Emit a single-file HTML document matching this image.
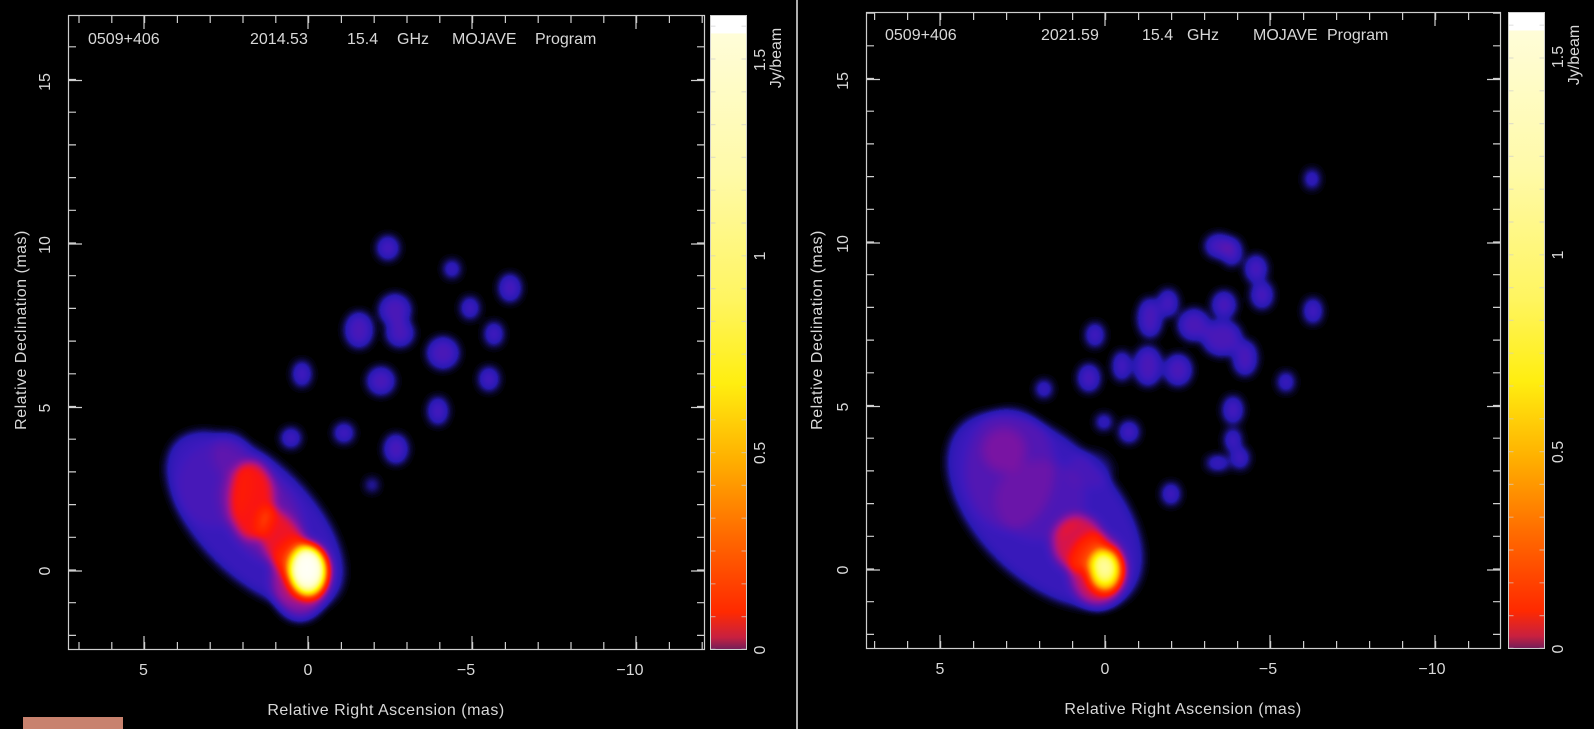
<!DOCTYPE html>
<html><head><meta charset="utf-8">
<style>
html,body{margin:0;padding:0;background:#000;width:1594px;height:729px;overflow:hidden}
svg{display:block}
text{font-family:"Liberation Sans",sans-serif;fill:#d8d8d8;}
</style></head><body>
<svg width="1594" height="729" viewBox="0 0 1594 729" xmlns="http://www.w3.org/2000/svg">
<defs>
<filter id="cmL" filterUnits="userSpaceOnUse" x="68" y="15" width="637" height="635" color-interpolation-filters="sRGB">
 <feGaussianBlur stdDeviation="5"/>
 <feColorMatrix type="matrix" values="0 0 0 1 0  0 0 0 1 0  0 0 0 1 0  0 0 0 0 1"/>
 <feComponentTransfer>
  <feFuncR type="table" tableValues="0 .16 .24 .33 .45 .57 .72 .86 .98 1 1 1 1 1 1 1 1 1 1 1 1 1 1 1 1 1"/>
  <feFuncG type="table" tableValues="0 .1 .1 .09 .08 .08 .08 .08 .08 .12 .16 .24 .31 .43 .55 .67 .78 .88 .96 .98 .99 .99 1 1 1 1"/>
  <feFuncB type="table" tableValues="0 .7 .74 .7 .65 .6 .45 .27 .08 0 0 0 0 0 0 0 0 0 .04 .24 .43 .59 .75 .86 .94 1"/>
 </feComponentTransfer>
</filter>
<filter id="cmR" filterUnits="userSpaceOnUse" x="866" y="12" width="635" height="637" color-interpolation-filters="sRGB">
 <feGaussianBlur stdDeviation="5"/>
 <feColorMatrix type="matrix" values="0 0 0 1 0  0 0 0 1 0  0 0 0 1 0  0 0 0 0 1"/>
 <feComponentTransfer>
  <feFuncR type="table" tableValues="0 .16 .24 .33 .45 .57 .72 .86 .98 1 1 1 1 1 1 1 1 1 1 1 1 1 1 1 1 1"/>
  <feFuncG type="table" tableValues="0 .1 .1 .09 .08 .08 .08 .08 .08 .12 .16 .24 .31 .43 .55 .67 .78 .88 .96 .98 .99 .99 1 1 1 1"/>
  <feFuncB type="table" tableValues="0 .7 .74 .7 .65 .6 .45 .27 .08 0 0 0 0 0 0 0 0 0 .04 .24 .43 .59 .75 .86 .94 1"/>
 </feComponentTransfer>
</filter>
<linearGradient id="cb" x1="0" y1="1" x2="0" y2="0">
 <stop offset="0" stop-color="#6e1e5a"/>
 <stop offset="0.02" stop-color="#c82040"/>
 <stop offset="0.06" stop-color="#ff2a00"/>
 <stop offset="0.18" stop-color="#ff6a00"/>
 <stop offset="0.3" stop-color="#ffb000"/>
 <stop offset="0.42" stop-color="#ffee10"/>
 <stop offset="0.55" stop-color="#fff560"/>
 <stop offset="0.75" stop-color="#fffaa8"/>
 <stop offset="0.97" stop-color="#fffdd8"/>
 <stop offset="0.972" stop-color="#ffffff"/>
 <stop offset="1" stop-color="#ffffff"/>
</linearGradient>
</defs>

<!-- LEFT IMAGE -->
<g filter="url(#cmL)" fill="#fff">
 <ellipse cx="255" cy="520" rx="110" ry="56" transform="rotate(45 255 520)" fill-opacity="0.07"/>
 <ellipse cx="215" cy="485" rx="38" ry="42" fill-opacity="0.03"/>
 <ellipse cx="230" cy="455" rx="18" ry="22" fill-opacity="0.04"/>
 <ellipse cx="262" cy="515" rx="55" ry="35" transform="rotate(55 262 515)" fill-opacity="0.07"/>
 <ellipse cx="252" cy="500" rx="22" ry="40" fill-opacity="0.22"/>
 <ellipse cx="285" cy="545" rx="20" ry="42" transform="rotate(-30 285 545)" fill-opacity="0.2"/>
 <ellipse cx="300" cy="578" rx="28" ry="40" fill-opacity="0.16"/>
 <ellipse cx="308" cy="571" rx="20" ry="26" fill-opacity="0.8"/>
 <ellipse cx="308" cy="569" rx="13" ry="17" fill-opacity="0.8"/>
 <g fill-opacity="0.1">
  <ellipse cx="388" cy="248" rx="9" ry="10"/>
  <ellipse cx="452" cy="269" rx="6" ry="7"/>
  <ellipse cx="359" cy="330" rx="12" ry="16"/>
  <ellipse cx="395" cy="310" rx="14" ry="14"/>
  <ellipse cx="400" cy="333" rx="12" ry="12"/>
  <ellipse cx="443" cy="353" rx="14" ry="14"/>
  <ellipse cx="381" cy="381" rx="12" ry="12"/>
  <ellipse cx="470" cy="308" rx="7" ry="9"/>
  <ellipse cx="494" cy="334" rx="7" ry="10"/>
  <ellipse cx="510" cy="288" rx="9" ry="12"/>
  <ellipse cx="489" cy="379" rx="8" ry="10"/>
  <ellipse cx="438" cy="411" rx="8" ry="12"/>
  <ellipse cx="396" cy="449" rx="10" ry="13"/>
  <ellipse cx="344" cy="433" rx="8" ry="8"/>
  <ellipse cx="291" cy="438" rx="8" ry="8"/>
  <ellipse cx="302" cy="374" rx="7" ry="11"/>
  <ellipse cx="372" cy="485" rx="4" ry="5"/>
 </g>
</g>

<!-- RIGHT IMAGE -->
<g filter="url(#cmR)" fill="#fff">
 <ellipse cx="1045" cy="510" rx="118" ry="68" transform="rotate(45 1045 510)" fill-opacity="0.07"/>
 <ellipse cx="1010" cy="470" rx="45" ry="60" fill-opacity="0.05"/>
 <ellipse cx="1090" cy="470" rx="22" ry="18" fill-opacity="0.03"/>
 <ellipse cx="1004" cy="450" rx="22" ry="22" fill-opacity="0.06"/>
 <ellipse cx="1040" cy="500" rx="45" ry="40" fill-opacity="0.04"/>
 <ellipse cx="1078" cy="543" rx="26" ry="28" fill-opacity="0.22"/>
 <ellipse cx="1098" cy="570" rx="28" ry="36" fill-opacity="0.2"/>
 <ellipse cx="1105" cy="570" rx="17" ry="22" fill-opacity="0.6"/>
 <ellipse cx="1105" cy="568" rx="10" ry="13" fill-opacity="0.5"/>
 <g fill-opacity="0.1">
  <ellipse cx="1312" cy="179" rx="5" ry="8"/>
  <ellipse cx="1219" cy="246" rx="12" ry="10"/>
  <ellipse cx="1232" cy="252" rx="8" ry="12"/>
  <ellipse cx="1256" cy="269" rx="9" ry="12"/>
  <ellipse cx="1262" cy="295" rx="9" ry="12"/>
  <ellipse cx="1224" cy="305" rx="10" ry="12"/>
  <ellipse cx="1168" cy="303" rx="8" ry="12"/>
  <ellipse cx="1150" cy="318" rx="10" ry="18"/>
  <ellipse cx="1194" cy="325" rx="14" ry="14"/>
  <ellipse cx="1222" cy="338" rx="18" ry="16"/>
  <ellipse cx="1245" cy="358" rx="10" ry="16"/>
  <ellipse cx="1148" cy="366" rx="12" ry="18"/>
  <ellipse cx="1178" cy="370" rx="12" ry="14"/>
  <ellipse cx="1122" cy="366" rx="7" ry="13"/>
  <ellipse cx="1095" cy="335" rx="7" ry="10"/>
  <ellipse cx="1089" cy="378" rx="9" ry="12"/>
  <ellipse cx="1044" cy="389" rx="6" ry="7"/>
  <ellipse cx="1129" cy="432" rx="8" ry="9"/>
  <ellipse cx="1104" cy="422" rx="6" ry="6"/>
  <ellipse cx="1233" cy="410" rx="8" ry="12"/>
  <ellipse cx="1233" cy="440" rx="6" ry="10"/>
  <ellipse cx="1240" cy="458" rx="7" ry="9"/>
  <ellipse cx="1286" cy="382" rx="6" ry="8"/>
  <ellipse cx="1313" cy="311" rx="7" ry="11"/>
  <ellipse cx="1171" cy="494" rx="7" ry="9"/>
  <ellipse cx="1218" cy="463" rx="10" ry="5"/>
 </g>
</g>

<!-- LEFT AXES -->
<g stroke="#cfcfcf" fill="none">
 <rect x="68.5" y="15.5" width="636" height="634" stroke-width="1.2"/>
 <line x1="78.4" y1="646" x2="705" y2="646" stroke-width="8" stroke-dasharray="1.2 31.6"/>
 <line x1="78.4" y1="19" x2="705" y2="19" stroke-width="8" stroke-dasharray="1.2 31.6"/>
 <line x1="143.4" y1="643" x2="705" y2="643" stroke-width="14" stroke-dasharray="1.2 162.8"/>
 <line x1="143.4" y1="22" x2="705" y2="22" stroke-width="14" stroke-dasharray="1.2 162.8"/>
 <line x1="72" y1="636" x2="72" y2="15" stroke-width="8" stroke-dasharray="1.2 31.5"/>
 <line x1="701" y1="636" x2="701" y2="15" stroke-width="8" stroke-dasharray="1.2 31.5"/>
 <line x1="75" y1="571.6" x2="75" y2="15" stroke-width="14" stroke-dasharray="1.2 162.3"/>
 <line x1="698" y1="571.6" x2="698" y2="15" stroke-width="14" stroke-dasharray="1.2 162.3"/>
</g>
<rect x="710" y="15" width="37" height="635" fill="url(#cb)"/>
<g stroke="#cfcfcf" fill="none">
 <rect x="710.5" y="15.5" width="36" height="634" stroke-width="1"/>
 <line x1="713" y1="650" x2="713" y2="15" stroke-width="5" stroke-dasharray="1.2 31.6" stroke-dashoffset="-32.8" stroke-opacity="0.6"/>
 <line x1="744" y1="650" x2="744" y2="15" stroke-width="5" stroke-dasharray="1.2 31.6" stroke-dashoffset="-32.8" stroke-opacity="0.6"/>
</g>
<g font-size="16">
 <text x="88" y="44">0509+406</text>
 <text x="250" y="44">2014.53</text>
 <text x="347" y="44">15.4</text>
 <text x="397" y="44">GHz</text>
 <text x="452" y="44">MOJAVE</text>
 <text x="535" y="44">Program</text>
 <text x="143.5" y="675" text-anchor="middle">5</text>
 <text x="308" y="675" text-anchor="middle">0</text>
 <text x="466" y="675" text-anchor="middle">−5</text>
 <text x="630" y="675" text-anchor="middle">−10</text>
 <text x="386" y="715" text-anchor="middle" letter-spacing="0.5">Relative Right Ascension (mas)</text>
 <text transform="translate(50,571) rotate(-90)" text-anchor="middle">0</text>
 <text transform="translate(50,408) rotate(-90)" text-anchor="middle">5</text>
 <text transform="translate(50,245) rotate(-90)" text-anchor="middle">10</text>
 <text transform="translate(50,82) rotate(-90)" text-anchor="middle">15</text>
 <text transform="translate(26,330) rotate(-90)" text-anchor="middle" letter-spacing="0.5">Relative Declination (mas)</text>
 <text transform="translate(765,650) rotate(-90)" text-anchor="middle">0</text>
 <text transform="translate(765,453) rotate(-90)" text-anchor="middle">0.5</text>
 <text transform="translate(765,256) rotate(-90)" text-anchor="middle">1</text>
 <text transform="translate(765,60) rotate(-90)" text-anchor="middle">1.5</text>
 <text transform="translate(781,58) rotate(-90)" text-anchor="middle">Jy/beam</text>
</g>
<rect x="23" y="717" width="100" height="12" fill="#c8826e"/>

<line x1="797" y1="0" x2="797" y2="729" stroke="#e8e8e8" stroke-width="1.5"/>

<!-- RIGHT AXES -->
<g stroke="#cfcfcf" fill="none">
 <rect x="866.5" y="12.5" width="634" height="636" stroke-width="1.2"/>
 <line x1="874" y1="645" x2="1501" y2="645" stroke-width="8" stroke-dasharray="1.2 31.8"/>
 <line x1="874" y1="16" x2="1501" y2="16" stroke-width="8" stroke-dasharray="1.2 31.8"/>
 <line x1="939.4" y1="642" x2="1501" y2="642" stroke-width="14" stroke-dasharray="1.2 163.8"/>
 <line x1="939.4" y1="19" x2="1501" y2="19" stroke-width="14" stroke-dasharray="1.2 163.8"/>
 <line x1="870" y1="635" x2="870" y2="12" stroke-width="8" stroke-dasharray="1.2 31.5"/>
 <line x1="1497" y1="635" x2="1497" y2="12" stroke-width="8" stroke-dasharray="1.2 31.5"/>
 <line x1="873" y1="570.6" x2="873" y2="12" stroke-width="14" stroke-dasharray="1.2 162.3"/>
 <line x1="1494" y1="570.6" x2="1494" y2="12" stroke-width="14" stroke-dasharray="1.2 162.3"/>
</g>
<rect x="1508" y="12" width="37" height="637" fill="url(#cb)"/>
<g stroke="#cfcfcf" fill="none">
 <rect x="1508.5" y="12.5" width="36" height="636" stroke-width="1"/>
 <line x1="1511" y1="649" x2="1511" y2="12" stroke-width="5" stroke-dasharray="1.2 31.6" stroke-dashoffset="-32.8" stroke-opacity="0.6"/>
 <line x1="1542" y1="649" x2="1542" y2="12" stroke-width="5" stroke-dasharray="1.2 31.6" stroke-dashoffset="-32.8" stroke-opacity="0.6"/>
</g>
<g font-size="16">
 <text x="885" y="40">0509+406</text>
 <text x="1041" y="40">2021.59</text>
 <text x="1142" y="40">15.4</text>
 <text x="1187" y="40">GHz</text>
 <text x="1253" y="40">MOJAVE</text>
 <text x="1327" y="40">Program</text>
 <text x="940" y="674" text-anchor="middle">5</text>
 <text x="1105" y="674" text-anchor="middle">0</text>
 <text x="1268" y="674" text-anchor="middle">−5</text>
 <text x="1432" y="674" text-anchor="middle">−10</text>
 <text x="1183" y="714" text-anchor="middle" letter-spacing="0.5">Relative Right Ascension (mas)</text>
 <text transform="translate(848,570) rotate(-90)" text-anchor="middle">0</text>
 <text transform="translate(848,407) rotate(-90)" text-anchor="middle">5</text>
 <text transform="translate(848,244) rotate(-90)" text-anchor="middle">10</text>
 <text transform="translate(848,81) rotate(-90)" text-anchor="middle">15</text>
 <text transform="translate(822,330) rotate(-90)" text-anchor="middle" letter-spacing="0.5">Relative Declination (mas)</text>
 <text transform="translate(1563,649) rotate(-90)" text-anchor="middle">0</text>
 <text transform="translate(1563,452) rotate(-90)" text-anchor="middle">0.5</text>
 <text transform="translate(1563,255) rotate(-90)" text-anchor="middle">1</text>
 <text transform="translate(1563,57) rotate(-90)" text-anchor="middle">1.5</text>
 <text transform="translate(1579,55) rotate(-90)" text-anchor="middle">Jy/beam</text>
</g>
</svg>
</body></html>
